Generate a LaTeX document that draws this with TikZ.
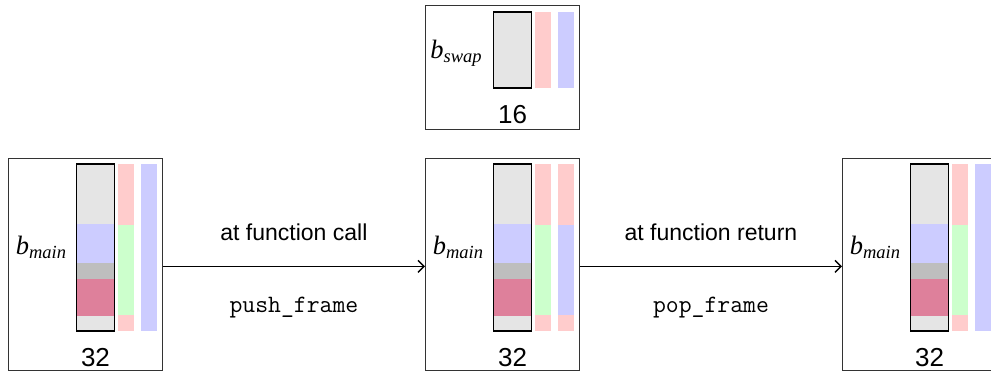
\documentclass[tikz,border=0pt]{standalone}
\usepackage{fontspec}
\setmainfont{Liberation Sans}
\newfontfamily\tms{Liberation Serif}
\usetikzlibrary{arrows.meta}
\definecolor{lg}{RGB}{229,229,229}
\definecolor{bl}{RGB}{204,204,255}
\definecolor{dg}{RGB}{190,190,190}
\definecolor{rd}{RGB}{222,128,155}
\definecolor{pk}{RGB}{255,204,204}
\definecolor{gn}{RGB}{204,255,204}
\tikzset{
  frame/.style={draw=black!80, line width=0.9pt, minimum width=154pt, anchor=north west, inner sep=0pt},
  arr/.style={line width=1.4pt, -{Straight Barb[length=6pt,width=12pt,line width=1.4pt]}},
  lbl/.style={anchor=base, inner sep=0pt, font=\fontsize{23}{27}\selectfont},
  code/.style={anchor=base, inner sep=0pt, font=\fontsize{25}{29}\selectfont\ttfamily},
  num/.style={anchor=base, inner sep=0pt, font=\fontsize{26}{30}\selectfont},
  bname/.style={anchor=base, inner sep=0pt, font=\fontsize{26.5}{30}\selectfont\tms\itshape},
}
\newcommand{\subtxt}[1]{\raisebox{-4pt}{\fontsize{18.5}{20}\selectfont #1}}
\newcommand{\mainstack}[2]{%
  \begin{scope}[shift={(#1.north west)}]
    \fill[lg] (68.5,6) rectangle (106.5,66);
    \fill[bl] (68.5,66) rectangle (106.5,105);
    \fill[dg] (68.5,105) rectangle (106.5,121);
    \fill[rd] (68.5,121) rectangle (106.5,158);
    \fill[lg] (68.5,158) rectangle (106.5,173);
    \draw[line width=1.1pt] (68.5,6) rectangle (106.5,173);
    \fill[pk] (110,6) rectangle (126,67);
    \fill[gn] (110,67) rectangle (126,157);
    \fill[pk] (110,157) rectangle (126,173);
    #2
    \node[bname] at (33,96.5) {b\subtxt{main}};
    \node[num] at (87.5,208.7) {32};
  \end{scope}}
\begin{document}
\begin{tikzpicture}[x=1pt,y=-1pt]
\clip (0,0) rectangle (991,373);
\node[frame, minimum height=212pt] (m1) at (8,158) {};
\node[frame, minimum height=212pt] (m2) at (425,158) {};
\node[frame, minimum height=212pt] (m3) at (842,158) {};
\node[frame, minimum height=124pt] (sw) at (425,5) {};
\mainstack{m1}{\fill[bl] (133,6) rectangle (149,173);}
\mainstack{m2}{\fill[pk] (133,6) rectangle (149,67);
  \fill[bl] (133,67) rectangle (149,157);
  \fill[pk] (133,157) rectangle (149,173);}
\mainstack{m3}{\fill[bl] (133,6) rectangle (149,173);}
\begin{scope}[shift={(sw.north west)}]
  \fill[lg] (68.5,7) rectangle (106.5,83);
  \draw[line width=1.1pt] (68.5,7) rectangle (106.5,83);
  \fill[pk] (110,7) rectangle (126,83);
  \fill[bl] (133,7) rectangle (149,83);
  \node[bname] at (31,53.3) {b\subtxt{swap}};
  \node[num] at (87.5,118) {16};
\end{scope}
\draw[arr] ([yshift=-2pt]m1.east) -- node[lbl, yshift=26pt] {at function call}
  node[code, yshift=-46pt] {push\_frame} ([yshift=-2pt]m2.west);
\draw[arr] ([yshift=-2pt]m2.east) -- node[lbl, yshift=26pt] {at function return}
  node[code, yshift=-46pt] {pop\_frame} ([yshift=-2pt]m3.west);
\end{tikzpicture}
\end{document}
